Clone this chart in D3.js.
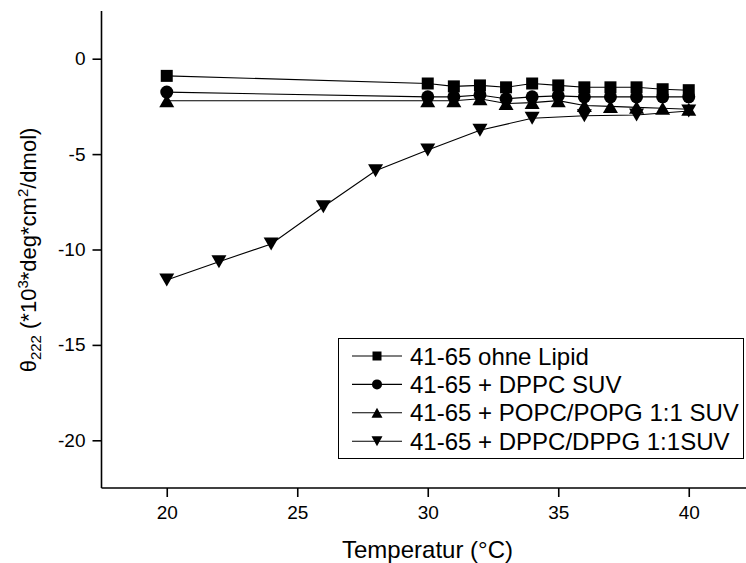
<!DOCTYPE html>
<html><head><meta charset="utf-8">
<script src="https://cdn.jsdelivr.net/npm/d3@7"></script>
<style>body{margin:0;background:#fff}svg{display:block;font-family:"Liberation Sans",Arial,sans-serif}</style>
</head><body><svg id="c" width="746" height="563"></svg>
<script>
const seriesNames = ["41-65 ohne Lipid","41-65 + DPPC SUV","41-65 + POPC/POPG 1:1 SUV","41-65 + DPPC/DPPG 1:1SUV"];
const tempsA = [20,30,31,32,33,34,35,36,37,38,39,40];
const ohneLipid = [-0.9,-1.3,-1.45,-1.4,-1.5,-1.3,-1.4,-1.5,-1.5,-1.5,-1.6,-1.65];
const dppcSUV = [-1.75,-2.0,-2.0,-1.9,-2.1,-2.0,-1.95,-2.0,-2.0,-2.0,-2.0,-2.0];
const popcPopg = [-2.2,-2.2,-2.2,-2.1,-2.35,-2.3,-2.2,-2.45,-2.5,-2.55,-2.6,-2.65];
const tempsB = [20,22,24,26,28,30,32,34,36,38,40];
const dppcDppg = [-11.6,-10.64,-9.71,-7.76,-5.87,-4.79,-3.75,-3.12,-2.99,-2.95,-2.74];
const xTicks = [20,25,30,35,40];
const yTicks = [0,-5,-10,-15,-20];

const svg = d3.select("#c");
const x = d3.scaleLinear().domain([17.5,42.5]).range([101.5,754]);
const y = d3.scaleLinear().domain([-22.5,2.5]).range([488,11]);

// axes
const xMinor = d3.range(17.5,43,2.5);
const yMinor = d3.range(-22.5,3,2.5);
const gx = svg.append("g").attr("transform","translate(0,488)");
gx.call(d3.axisBottom(x).tickValues(xMinor).tickSize(5).tickFormat(""));
gx.call(d3.axisBottom(x).tickValues(xTicks).tickSize(9).tickPadding(9).tickFormat(d=>String(d)));
const gy = svg.append("g").attr("transform","translate(101.5,0)");
gy.call(d3.axisLeft(y).tickValues(yMinor).tickSize(5).tickFormat(""));
gy.call(d3.axisLeft(y).tickValues(yTicks).tickSize(9).tickPadding(7).tickFormat(d=>String(d)));
svg.selectAll(".domain").remove();
svg.append("line").attr("x1",101.5).attr("x2",746).attr("y1",488).attr("y2",488).attr("stroke","#000").attr("stroke-width",1.6);
svg.append("line").attr("x1",101.5).attr("x2",101.5).attr("y1",11).attr("y2",488).attr("stroke","#000").attr("stroke-width",1.6);
svg.selectAll(".tick line").attr("stroke","#000").attr("stroke-width",1.6);
svg.selectAll(".tick text").attr("font-size",19).attr("fill","#000").attr("font-family","Liberation Sans, Arial, sans-serif");

// markers
function sq(s){const h=s/2;return `M${-h},${-h}H${h}V${h}H${-h}Z`;}
function ci(s){return d3.symbol(d3.symbolCircle, Math.PI*(s/2)*(s/2))();}
function tu(w,h){return `M0,${-h/2}L${w/2},${h/2}L${-w/2},${h/2}Z`;}
function td(w,h){return `M0,${h/2}L${w/2},${-h/2}L${-w/2},${-h/2}Z`;}
const markers = [()=>sq(12),()=>ci(13),()=>tu(15,13),()=>td(15,13)];
const legMarkers = [()=>sq(9),()=>ci(10),()=>tu(11,10),()=>td(11,10)];
const series = [
  {t:tempsA,v:ohneLipid},{t:tempsA,v:dppcSUV},{t:tempsA,v:popcPopg},{t:tempsB,v:dppcDppg}
];
const line = d3.line().x(d=>x(d[0])).y(d=>y(d[1]));
series.forEach((s,i)=>{
  const pts = s.t.map((t,j)=>[t,s.v[j]]);
  svg.append("path").attr("d",line(pts)).attr("fill","none").attr("stroke","#000").attr("stroke-width",1.1);
});
series.forEach((s,i)=>{
  const pts = s.t.map((t,j)=>[t,s.v[j]]);
  svg.append("g").selectAll("path").data(pts).join("path")
    .attr("transform",d=>`translate(${x(d[0])},${y(d[1])})`)
    .attr("d",markers[i]()).attr("fill","#000");
});

// legend
const lg = svg.append("g");
lg.append("rect").attr("x",338.5).attr("y",338.5).attr("width",405).attr("height",120)
  .attr("fill","#fff").attr("stroke","#000").attr("stroke-width",1);
seriesNames.forEach((n,i)=>{
  const yy = 356 + i*28.4;
  lg.append("line").attr("x1",352).attr("x2",402).attr("y1",yy).attr("y2",yy).attr("stroke","#000").attr("stroke-width",1.1);
  lg.append("path").attr("transform",`translate(377,${yy})`).attr("d",legMarkers[i]()).attr("fill","#000");
  lg.append("text").attr("x",410).attr("y",yy).attr("dy","0.36em").attr("font-size",24).attr("fill","#000").text(n);
});

// titles
svg.append("text").attr("x",427.5).attr("y",558).attr("text-anchor","middle").attr("font-size",24).attr("fill","#000").text("Temperatur (°C)");
const yt = svg.append("text").attr("transform","translate(36,250) rotate(-90)").attr("text-anchor","middle").attr("font-size",22).attr("fill","#000");
yt.append("tspan").text("θ");
yt.append("tspan").attr("font-size",15).attr("dy",5).text("222");
yt.append("tspan").attr("dy",-5).text(" (*10");
yt.append("tspan").attr("font-size",15).attr("dy",-8).text("3");
yt.append("tspan").attr("dy",8).text("*deg*cm");
yt.append("tspan").attr("font-size",15).attr("dy",-8).text("2");
yt.append("tspan").attr("dy",8).text("/dmol)");
</script></body></html>
